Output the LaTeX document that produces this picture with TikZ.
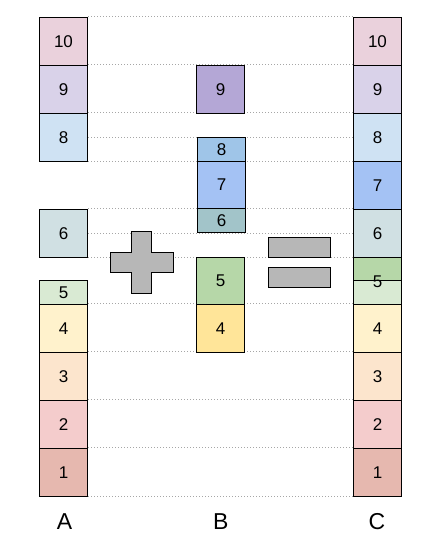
\documentclass[tikz,border=0pt]{standalone}
\usepackage{fontspec}
\setmainfont{Liberation Sans}
\usetikzlibrary{backgrounds}
\definecolor{cTen}{HTML}{EAD1DC}
\definecolor{cNine}{HTML}{D9D2E9}
\definecolor{cEight}{HTML}{CFE2F3}
\definecolor{cSix}{HTML}{D0E0E3}
\definecolor{cFive}{HTML}{D9EAD3}
\definecolor{cFour}{HTML}{FFF2CC}
\definecolor{cThree}{HTML}{FCE5CD}
\definecolor{cTwo}{HTML}{F4CCCC}
\definecolor{cOne}{HTML}{E6B8AF}
\definecolor{bNine}{HTML}{B4A7D6}
\definecolor{bEight}{HTML}{9FC5E8}
\definecolor{bSeven}{HTML}{A4C2F4}
\definecolor{bSix}{HTML}{A2C4C9}
\definecolor{bFive}{HTML}{B6D7A8}
\definecolor{bFour}{HTML}{FFE599}
\definecolor{opgray}{HTML}{B7B7B7}
\definecolor{guide}{HTML}{A6A6A6}
\begin{document}
\begin{tikzpicture}[x=1pt,y=-1pt,
  blk/.style={draw=black, line width=1pt, rectangle, inner sep=0pt, minimum width=48pt,
    minimum height=48pt, font=\fontsize{17}{20}\selectfont},
  half/.style={blk, minimum height=24pt},
  guideline/.style={guide, line width=0.7pt, dash pattern=on 1pt off 2pt},
  opshape/.style={draw=black, line width=1pt, fill=opgray},
  collabel/.style={font=\fontsize{23}{26}\selectfont, inner sep=0pt}]
\useasboundingbox (0,0) rectangle (443,542);
% column A
\node[blk, fill=cTen]   (a10) at (63.5,41.3) {10};
\node[blk, fill=cNine]  (a9)  at (63.5,89.3) {9};
\node[blk, fill=cEight] (a8)  at (63.5,137.3) {8};
\node[blk, fill=cSix]   (a6)  at (63.5,233.3) {6};
\node[half, fill=cFive] (a5)  at (63.5,292.3) {5};
\node[blk, fill=cFour]  (a4)  at (63.5,328.3) {4};
\node[blk, fill=cThree] (a3)  at (63.5,376.3) {3};
\node[blk, fill=cTwo]   (a2)  at (63.5,424.3) {2};
\node[blk, fill=cOne]   (a1)  at (63.5,472.3) {1};
% column B
\node[blk, fill=bNine]  (b9) at (220.5,89.3) {9};
\node[half, fill=bEight] (b8) at (221.5,149.3) {8};
\node[blk, minimum height=47pt, fill=bSeven] (b7) at (221.5,184.8) {7};
\node[half, fill=bSix] (b6) at (221.5,220.3) {6};
\node[blk, minimum height=47pt, fill=bFive] (b5) at (220.5,280.8) {5};
\node[blk, fill=bFour] (b4) at (220.5,328.3) {4};
% column C
\node[blk, fill=cTen]   (c10) at (377.5,41.3) {10};
\node[blk, fill=cNine]  (c9)  at (377.5,89.3) {9};
\node[blk, fill=cEight] (c8)  at (377.5,137.3) {8};
\node[blk, fill=bSeven] (c7)  at (377.5,185.3) {7};
\node[blk, fill=cSix]   (c6)  at (377.5,233.3) {6};
\node[blk, minimum height=23pt, fill=bFive] (c5top) at (377.5,268.8) {};
\node[half, fill=cFive] (c5bot) at (377.5,292.3) {};
\node[inner sep=0pt, font=\fontsize{17}{20}\selectfont] (c5) at (377.5,281.5) {5};
\node[blk, fill=cFour]  (c4)  at (377.5,328.3) {4};
\node[blk, fill=cThree] (c3)  at (377.5,376.3) {3};
\node[blk, fill=cTwo]   (c2)  at (377.5,424.3) {2};
\node[blk, fill=cOne]   (c1)  at (377.5,472.3) {1};
% plus and equals
\draw[opshape] (131.7,231.3) -- (151.7,231.3) -- (151.7,252.3) -- (173.7,252.3)
  -- (173.7,272.3) -- (151.7,272.3) -- (151.7,293.3) -- (131.7,293.3)
  -- (131.7,272.3) -- (110.7,272.3) -- (110.7,252.3) -- (131.7,252.3) -- cycle;
\draw[opshape] (268.3,237.3) rectangle (330.7,257.3);
\draw[opshape] (268.3,267.3) rectangle (330.7,287.3);
% labels
\node[collabel] (la) at (64.5,521.5) {A};
\node[collabel] (lb) at (220.7,521.5) {B};
\node[collabel] (lc) at (377,521.5) {C};
% guide lines
\begin{scope}[on background layer]
\draw[guideline] (a10.north east) -- (c10.north west);
\draw[guideline] (a9.north east) -- (c9.north west);
\draw[guideline] (a8.north east) -- (c8.north west);
\draw[guideline] (a8.east) -- (c8.west);
\draw[guideline] (a8.south east) -- (c8.south west);
\draw[guideline] (a6.north east) -- (c6.north west);
\draw[guideline] (a6.east) -- (c6.west);
\draw[guideline] (a6.south east) -- (c6.south west);
\draw[guideline] (a4.north east) -- (c4.north west);
\draw[guideline] (a3.north east) -- (c3.north west);
\draw[guideline] (a2.north east) -- (c2.north west);
\draw[guideline] (a1.north east) -- (c1.north west);
\draw[guideline] (a1.south east) -- (c1.south west);
\end{scope}
\end{tikzpicture}
\end{document}
